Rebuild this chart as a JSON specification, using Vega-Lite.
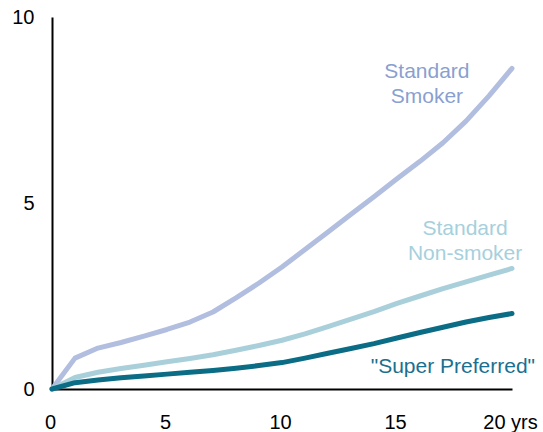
{
  "$schema": "https://vega.github.io/schema/vega-lite/v6.json",
  "autosize": {"type": "none"},
  "padding": {"left": 52, "top": 17, "right": 31, "bottom": 43},
  "width": 460,
  "height": 372,
  "background": "white",
  "config": {
    "view": {"stroke": null},
    "font": "Liberation Sans"
  },
  "datasets": {
    "lines": [
      {"year": 0, "series": "Standard Smoker", "value": 0},
      {"year": 1, "series": "Standard Smoker", "value": 0.83},
      {"year": 2, "series": "Standard Smoker", "value": 1.1},
      {"year": 3, "series": "Standard Smoker", "value": 1.25},
      {"year": 4, "series": "Standard Smoker", "value": 1.42},
      {"year": 5, "series": "Standard Smoker", "value": 1.6},
      {"year": 6, "series": "Standard Smoker", "value": 1.8},
      {"year": 7, "series": "Standard Smoker", "value": 2.07},
      {"year": 8, "series": "Standard Smoker", "value": 2.45},
      {"year": 9, "series": "Standard Smoker", "value": 2.85},
      {"year": 10, "series": "Standard Smoker", "value": 3.28},
      {"year": 11, "series": "Standard Smoker", "value": 3.75},
      {"year": 12, "series": "Standard Smoker", "value": 4.22},
      {"year": 13, "series": "Standard Smoker", "value": 4.7},
      {"year": 14, "series": "Standard Smoker", "value": 5.17},
      {"year": 15, "series": "Standard Smoker", "value": 5.65},
      {"year": 16, "series": "Standard Smoker", "value": 6.12},
      {"year": 17, "series": "Standard Smoker", "value": 6.62},
      {"year": 18, "series": "Standard Smoker", "value": 7.2},
      {"year": 19, "series": "Standard Smoker", "value": 7.88},
      {"year": 20, "series": "Standard Smoker", "value": 8.62},
      {"year": 0, "series": "Standard Non-smoker", "value": 0},
      {"year": 1, "series": "Standard Non-smoker", "value": 0.31},
      {"year": 2, "series": "Standard Non-smoker", "value": 0.45},
      {"year": 3, "series": "Standard Non-smoker", "value": 0.55},
      {"year": 4, "series": "Standard Non-smoker", "value": 0.64},
      {"year": 5, "series": "Standard Non-smoker", "value": 0.73},
      {"year": 6, "series": "Standard Non-smoker", "value": 0.82},
      {"year": 7, "series": "Standard Non-smoker", "value": 0.92},
      {"year": 8, "series": "Standard Non-smoker", "value": 1.04},
      {"year": 9, "series": "Standard Non-smoker", "value": 1.17},
      {"year": 10, "series": "Standard Non-smoker", "value": 1.31},
      {"year": 11, "series": "Standard Non-smoker", "value": 1.48},
      {"year": 12, "series": "Standard Non-smoker", "value": 1.68},
      {"year": 13, "series": "Standard Non-smoker", "value": 1.88},
      {"year": 14, "series": "Standard Non-smoker", "value": 2.08},
      {"year": 15, "series": "Standard Non-smoker", "value": 2.3},
      {"year": 16, "series": "Standard Non-smoker", "value": 2.5},
      {"year": 17, "series": "Standard Non-smoker", "value": 2.7},
      {"year": 18, "series": "Standard Non-smoker", "value": 2.88},
      {"year": 19, "series": "Standard Non-smoker", "value": 3.06},
      {"year": 20, "series": "Standard Non-smoker", "value": 3.24},
      {"year": 0, "series": "Super Preferred", "value": 0},
      {"year": 1, "series": "Super Preferred", "value": 0.17},
      {"year": 2, "series": "Super Preferred", "value": 0.24},
      {"year": 3, "series": "Super Preferred", "value": 0.3},
      {"year": 4, "series": "Super Preferred", "value": 0.35},
      {"year": 5, "series": "Super Preferred", "value": 0.4},
      {"year": 6, "series": "Super Preferred", "value": 0.45},
      {"year": 7, "series": "Super Preferred", "value": 0.5},
      {"year": 8, "series": "Super Preferred", "value": 0.56},
      {"year": 9, "series": "Super Preferred", "value": 0.63},
      {"year": 10, "series": "Super Preferred", "value": 0.71},
      {"year": 11, "series": "Super Preferred", "value": 0.83},
      {"year": 12, "series": "Super Preferred", "value": 0.96},
      {"year": 13, "series": "Super Preferred", "value": 1.09},
      {"year": 14, "series": "Super Preferred", "value": 1.22},
      {"year": 15, "series": "Super Preferred", "value": 1.37},
      {"year": 16, "series": "Super Preferred", "value": 1.52},
      {"year": 17, "series": "Super Preferred", "value": 1.66},
      {"year": 18, "series": "Super Preferred", "value": 1.8},
      {"year": 19, "series": "Super Preferred", "value": 1.92},
      {"year": 20, "series": "Super Preferred", "value": 2.03}
    ],
    "labels": [
      {"year": 16.3, "value": 8.51, "series": "Standard Smoker", "text": "Standard\nSmoker"},
      {"year": 17.96, "value": 4.31, "series": "Standard Non-smoker", "text": "Standard\nNon-smoker"},
      {"year": 17.43, "value": 0.6, "series": "Super Preferred", "text": "\"Super Preferred\""}
    ]
  },
  "layer": [
    {
      "data": {"name": "lines"},
      "mark": {"type": "line", "strokeWidth": 5, "strokeJoin": "round", "strokeCap": "round", "clip": false},
      "encoding": {
        "x": {
          "field": "year", "type": "quantitative",
          "scale": {"domain": [0, 20], "nice": false, "zero": true},
          "axis": {
            "title": null,
            "values": [0, 5, 10, 15, 20],
            "labelExpr": "datum.value == 20 ? '20 yrs' : datum.label",
            "ticks": false,
            "grid": false,
            "domainColor": "#000000",
            "domainWidth": 2,
            "labelColor": "#000000",
            "labelFont": "Liberation Sans",
            "labelFontSize": 20,
            "labelPadding": 23,
            "labelFlush": false,
            "labelOverlap": false,
            "labelOffset": -2
          }
        },
        "y": {
          "field": "value", "type": "quantitative",
          "scale": {"domain": [0, 10], "nice": false},
          "axis": {
            "title": null,
            "values": [0, 5, 10],
            "ticks": false,
            "grid": false,
            "domainColor": "#000000",
            "domainWidth": 2,
            "labelColor": "#000000",
            "labelFont": "Liberation Sans",
            "labelFontSize": 20,
            "labelPadding": 18
          }
        },
        "color": {
          "field": "series", "type": "nominal",
          "scale": {
            "domain": ["Standard Smoker", "Standard Non-smoker", "Super Preferred"],
            "range": ["#b2bedf", "#a9d0da", "#0b6c86"]
          },
          "legend": null
        },
        "order": {"field": "year", "type": "quantitative"}
      }
    },
    {
      "data": {"name": "labels"},
      "mark": {"type": "text", "font": "Liberation Sans", "fontSize": 21, "lineBreak": "\n", "lineHeight": 25, "align": "center", "baseline": "middle"},
      "encoding": {
        "x": {"field": "year", "type": "quantitative"},
        "y": {"field": "value", "type": "quantitative"},
        "text": {"field": "text"},
        "color": {
          "field": "series", "type": "nominal",
          "scale": {
            "domain": ["Standard Smoker", "Standard Non-smoker", "Super Preferred"],
            "range": ["#8a9fd0", "#a6d0dc", "#1a7090"]
          },
          "legend": null
        }
      }
    }
  ],
  "resolve": {"scale": {"color": "independent"}}
}
